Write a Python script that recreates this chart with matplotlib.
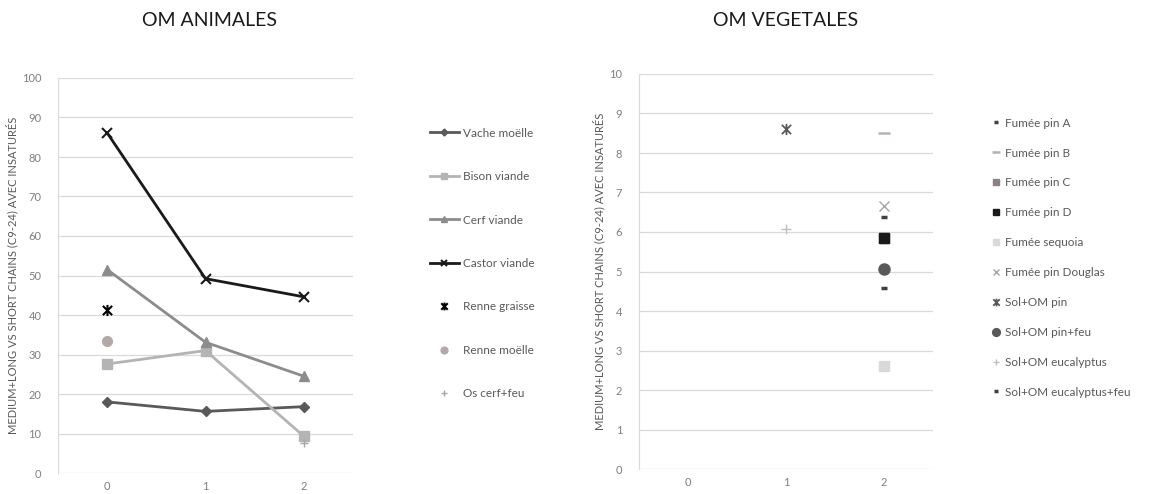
import matplotlib
matplotlib.use("Agg")
import matplotlib.pyplot as plt
from matplotlib.path import Path

plt.rcParams['font.family'] = ['Lato', 'DejaVu Sans']

# OM animales
x_anim = [0, 1, 2]
vache_moelle = [18.0, 15.6, 16.8]
bison_viande = [27.6, 31.0, 9.3]
cerf_viande = [51.5, 33.1, 24.5]
castor_viande = [86.1, 49.2, 44.6]
renne_graisse = 41.2   # at x = 0
renne_moelle = 33.5    # at x = 0
os_cerf_feu = 7.7      # at x = 2

# OM vegetales (x position, value)
fumee_pin_a = (2, 6.38)
fumee_pin_b = (2, 8.50)
fumee_pin_c = (2, 5.85)
fumee_pin_d = (2, 5.85)
fumee_sequoia = (2, 2.60)
fumee_pin_douglas = (2, 6.66)
sol_om_pin = (1, 8.60)
sol_om_pin_feu = (2, 5.06)
sol_om_eucalyptus = (1, 6.07)
sol_om_eucalyptus_feu = (2, 4.58)

ylabel = 'MEDIUM+LONG VS SHORT CHAINS (C9-24) AVEC INSATURÉS'
W, H = 1162, 494
fig = plt.figure(figsize=(W / 100, H / 100), dpi=100)

# excel-like "star" marker: an x with a vertical bar
star = Path([(-1, -1), (1, 1), (-1, 1), (1, -1), (0, -1.2), (0, 1.2)],
            [Path.MOVETO, Path.LINETO, Path.MOVETO, Path.LINETO, Path.MOVETO, Path.LINETO])

def box(x0, x1, ytop, ybot):
    return [x0 / W, (H - ybot) / H, (x1 - x0) / W, (ybot - ytop) / H]

ax1 = fig.add_axes(box(58, 353, 78, 473))
ax2 = fig.add_axes(box(639, 933, 74, 469))

tick_col = '#7f7f7f'
grid_col = '#d9d9d9'

def style(ax, ymax, step):
    ax.set_xlim(-0.5, 2.5)
    ax.set_ylim(0, ymax)
    ax.set_xticks([0, 1, 2])
    ax.set_yticks(range(0, ymax + 1, step))
    ax.grid(axis='y', color=grid_col, lw=0.9)
    ax.set_axisbelow(True)
    for s in ['top', 'right', 'bottom']:
        ax.spines[s].set_visible(False)
    ax.spines['left'].set_color(grid_col)
    ax.tick_params(length=0, colors=tick_col, labelsize=8)
    ax.tick_params(axis='y', pad=12)
    ax.tick_params(axis='x', pad=6)
    ax.set_ylabel(ylabel, fontsize=8, color='#595959')

style(ax1, 100, 10)
style(ax2, 10, 1)
ax1.yaxis.set_label_coords(-0.135, 0.5)
ax2.yaxis.set_label_coords(-0.115, 0.5)

# left chart
ax1.plot(x_anim, vache_moelle, color='#595959', lw=2, marker='D', ms=5, label='Vache moëlle')
ax1.plot(x_anim, bison_viande, color='#b4b4b4', lw=2, marker='s', ms=7, label='Bison viande')
ax1.plot(x_anim, cerf_viande, color='#8c8c8c', lw=2, marker='^', ms=7, label='Cerf viande')
ax1.plot(x_anim, castor_viande, color='#1a1a1a', lw=2, marker='x', ms=7, mew=1.5, label='Castor viande')
ax1.plot([0], [renne_graisse], ls='none', color='black', marker=star, ms=8, mew=1.5, label='Renne graisse')
ax1.plot([0], [renne_moelle], ls='none', color='#b3a9a9', marker='o', ms=7, label='Renne moëlle')
ax1.plot([2], [os_cerf_feu], ls='none', color='#a6a6a6', marker='+', ms=6, label='Os cerf+feu')

# right chart
veg = [
    ('Fumée pin A', fumee_pin_a, dict(marker='_', color='#404040', ms=4, mew=2.5)),
    ('Fumée pin B', fumee_pin_b, dict(marker='_', color='#b8b0b0', ms=9, mew=1.8)),
    ('Fumée pin C', fumee_pin_c, dict(marker='s', color='#8c8080', ms=7)),
    ('Fumée pin D', fumee_pin_d, dict(marker='s', color='#1a1a1a', ms=7)),
    ('Fumée sequoia', fumee_sequoia, dict(marker='s', color='#d9d9d9', ms=7)),
    ('Fumée pin Douglas', fumee_pin_douglas, dict(marker='x', color='#a6a6a6', ms=7, mew=1)),
    ('Sol+OM pin', sol_om_pin, dict(marker=star, color='#595959', ms=8, mew=1.3)),
    ('Sol+OM pin+feu', sol_om_pin_feu, dict(marker='o', color='#595959', ms=8)),
    ('Sol+OM eucalyptus', sol_om_eucalyptus, dict(marker='+', color='#bfbfbf', ms=7, mew=1)),
    ('Sol+OM eucalyptus+feu', sol_om_eucalyptus_feu, dict(marker='_', color='#404040', ms=4, mew=2.5)),
]
for name, (xv, yv), kw in veg:
    ax2.plot([xv], [yv], ls='none', label=name, **kw)

fig.text(209 / W, 1 - 20 / H, 'OM ANIMALES', fontsize=14, color='#1a1a1a', ha='center', va='center')
fig.text(786 / W, 1 - 20 / H, 'OM VEGETALES', fontsize=14, color='#1a1a1a', ha='center', va='center')

h1, l1 = ax1.get_legend_handles_labels()
fig.legend(h1, l1, loc='upper left', bbox_to_anchor=(419 / W, 1 - 117 / H),
           frameon=False, fontsize=8.5, labelspacing=2.75, handlelength=2.5,
           handletextpad=0.3, labelcolor='#595959', markerscale=0.7)
h2, l2 = ax2.get_legend_handles_labels()
fig.legend(h2, l2, loc='upper left', bbox_to_anchor=(980 / W, 1 - 107 / H),
           frameon=False, fontsize=8.5, labelspacing=1.6, handlelength=0.9,
           handletextpad=0.3, labelcolor='#595959', markerscale=0.7)

fig.savefig('out.png', dpi=100)
